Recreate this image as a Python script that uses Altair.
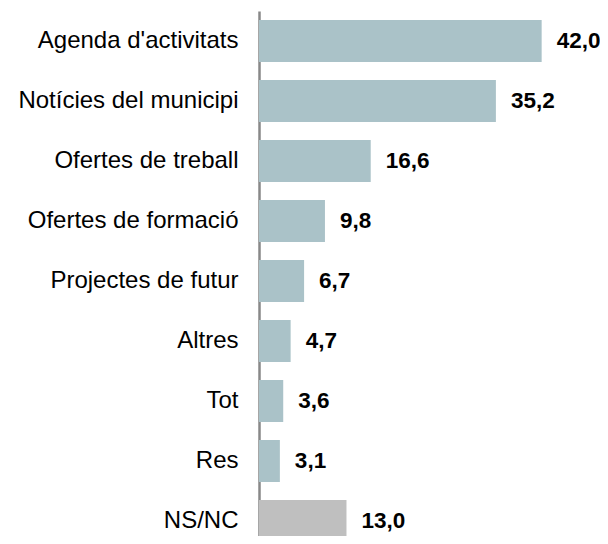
import altair as alt
import pandas as pd

categories = ["Agenda d'activitats", "Notícies del municipi", "Ofertes de treball",
              "Ofertes de formació", "Projectes de futur", "Altres", "Tot", "Res", "NS/NC"]
values = [42.0, 35.2, 16.6, 9.8, 6.7, 4.7, 3.6, 3.1, 13.0]
labels = ["42,0", "35,2", "16,6", "9,8", "6,7", "4,7", "3,6", "3,1", "13,0"]
groups = ["main"] * 8 + ["nsnc"]

df = pd.DataFrame({"cat": categories, "val": values, "lab": labels, "grp": groups})

W = 50 * 6.73
L = 251
H = 525
base = alt.Chart(df).encode(
    y=alt.Y("cat:N", sort=categories, title=None,
            scale=alt.Scale(paddingInner=0.3, paddingOuter=0.15, range=[0, 540]),
            axis=alt.Axis(domainColor="#888888", domainWidth=2.5, ticks=False,
                          labelFontSize=24, labelFont="Liberation Sans",
                          labelColor="#000000", labelPadding=21, labelLimit=300))
)

bars = base.mark_bar().encode(
    x=alt.X("val:Q", scale=alt.Scale(domain=[0, 50]), axis=None),
    color=alt.Color("grp:N", scale=alt.Scale(domain=["main", "nsnc"],
                                             range=["#AAC2C8", "#BFBFBF"]), legend=None),
)

text = base.mark_text(align="left", dx=15, font="Liberation Sans", fontSize=22.5,
                      fontWeight="bold", color="#000000").encode(
    x=alt.X("val:Q"),
    text="lab:N",
)

chart = (bars + text).properties(
    width=W, height=H,
    padding={"left": L, "top": 3, "right": 592 - L - W, "bottom": 0},
    autosize=alt.AutoSizeParams(type="none"),
).configure_view(stroke=None)

chart.save("out.html", embed_options={"renderer": "svg", "actions": False})
